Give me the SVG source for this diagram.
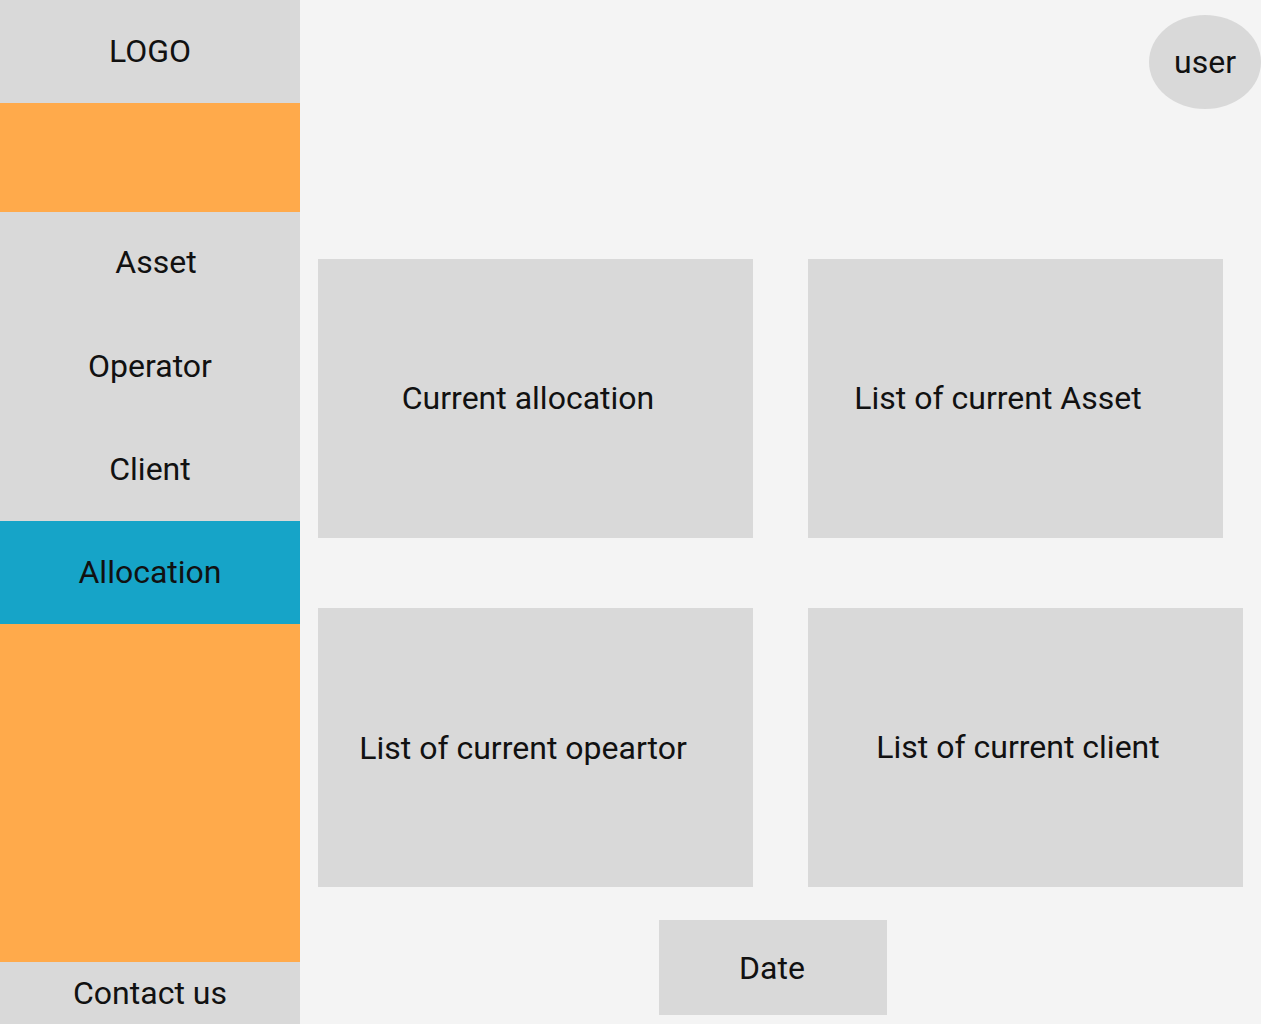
<svg xmlns="http://www.w3.org/2000/svg" width="1261" height="1024" viewBox="0 0 1261 1024">
<style>
.g{fill:#d9d9d9}
.o{fill:#ffaa4b}
.b{fill:#16a4c8}
text{font-family:Roboto,"Liberation Sans",sans-serif;font-size:32px;fill:#111;text-anchor:middle}
</style>
<rect width="1261" height="1024" fill="#f4f4f4"/>
<g id="sidebar">
<g id="logo"><rect class="g" x="0" y="0" width="300" height="103"/><text x="150" y="62">LOGO</text></g>
<rect id="orange-top" class="o" x="0" y="103" width="300" height="109"/>
<g id="menu"><rect class="g" x="0" y="212" width="300" height="309"/>
<text id="asset" x="156" y="273">Asset</text>
<text id="operator" x="150" y="377">Operator</text>
<text id="client" x="150" y="480">Client</text></g>
<g id="allocation"><rect class="b" x="0" y="521" width="300" height="103"/><text x="150" y="583">Allocation</text></g>
<rect id="orange-bottom" class="o" x="0" y="624" width="300" height="338"/>
<g id="contact"><rect class="g" x="0" y="962" width="300" height="62"/><text x="150" y="1004">Contact us</text></g>
</g>
<g id="user"><ellipse class="g" cx="1205" cy="62" rx="56" ry="47"/><text x="1205" y="73">user</text></g>
<g id="current-allocation"><rect class="g" x="318" y="259" width="435" height="279"/><text x="528" y="409">Current allocation</text></g>
<g id="current-asset"><rect class="g" x="808" y="259" width="415" height="279"/><text x="998" y="409">List of current Asset</text></g>
<g id="current-operator"><rect class="g" x="318" y="608" width="435" height="279"/><text x="523" y="759">List of current opeartor</text></g>
<g id="current-client"><rect class="g" x="808" y="608" width="435" height="279"/><text x="1018" y="758">List of current client</text></g>
<g id="date"><rect class="g" x="659" y="920" width="228" height="95"/><text x="772" y="979">Date</text></g>
<g id="connectors"></g>
</svg>
